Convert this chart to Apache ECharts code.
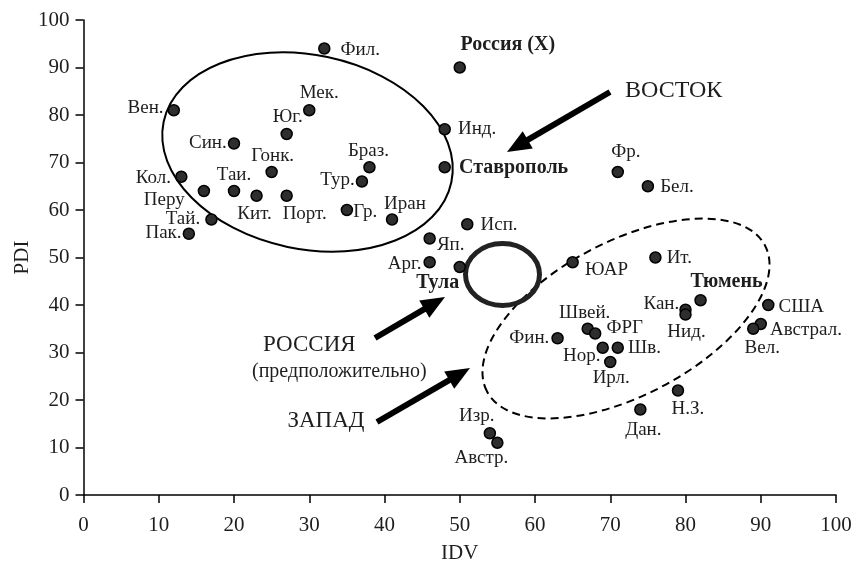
<!DOCTYPE html>
<html>
<head>
<meta charset="utf-8">
<script src="https://cdn.jsdelivr.net/npm/echarts@6/dist/echarts.min.js"></script>
<style>html,body{margin:0;padding:0;background:#fff;}#c{width:857px;height:561px;}</style>
</head>
<body>
<div id="c"></div>
<script>
// ---- data ----
const names = ['Фил.','Россия (X)','Вен.','Мек.','Юг.','Инд.','Син.','Ставрополь','Браз.','Гонк.','Фр.','Кол.','Тур.','Бел.','Перу','Таи.','Кит.','Порт.','Гр.','Иран','Тай.','Исп.','Пак.','Яп.','Арг.','Тула','ЮАР','Ит.','Тюмень','Кан.','Нид.','США','Австрал.','Вел.','Швей.','ФРГ','Фин.','Нор.','Шв.','Ирл.','Н.З.','Дан.','Изр.','Австр.'];
const idv = [32,50,12,30,27,48,20,48,38,25,71,13,37,75,16,20,23,27,35,41,17,51,14,46,46,50,65,76,82,80,80,91,90,89,67,68,63,69,71,70,79,74,54,55];
const pdi = [94,90,81,81,76,77,74,69,69,68,68,67,66,65,64,64,63,63,60,58,58,57,55,54,49,48,49,50,41,39,38,40,36,35,35,34,33,31,31,28,22,18,13,11];
const boldNames = ['Россия (X)','Ставрополь','Тула','Тюмень'];
const xAxisTitle = 'IDV';
const yAxisTitle = 'PDI';
const noteEast = 'ВОСТОК';
const noteRussia = ['РОССИЯ','(предположительно)'];
const noteWest = 'ЗАПАД';

// ---- label layout (style only) : [position, distance, dx, dy] ----
const labelPlace = {
  'Фил.':['right',10,0,2], 'Россия (X)':['top',6,48,0], 'Вен.':['left',4,0,-2], 'Мек.':['top',1,10,0],
  'Юг.':['top',1,1,0], 'Инд.':['right',7,0,0], 'Син.':['left',1,0,0], 'Ставрополь':['right',8,0,1],
  'Браз.':['top',0,-1,0], 'Гонк.':['top',0,1,0], 'Фр.':['top',4,8,0], 'Кол.':['left',4,0,1],
  'Тур.':['left',1,0,-1], 'Бел.':['right',6,0,1], 'Перу':['left',5,-8,9], 'Таи.':['top',0,0,0],
  'Кит.':['bottom',3,-2,0], 'Порт.':['bottom',3,18,0], 'Гр.':['right',0,0,2], 'Иран':['top',0,13,0],
  'Тай.':['left',5,0,0], 'Исп.':['right',7,0,1], 'Пак.':['left',1,0,-1], 'Яп.':['right',1,0,7],
  'Арг.':['left',2,0,2], 'Тула':['bottom',0,-22,0], 'ЮАР':['right',6,0,8], 'Ит.':['right',5,0,1],
  'Тюмень':['top',2,26,0], 'Кан.':['left',0,0,-6], 'Нид.':['bottom',2,1,0], 'США':['right',4,0,2],
  'Австрал.':['right',3,0,6], 'Вел.':['bottom',4,9,0], 'Швей.':['top',0,-3,0], 'ФРГ':['right',5,0,-5],
  'Фин.':['left',2,0,0], 'Нор.':['left',0,4,8], 'Шв.':['right',4,0,0], 'Ирл.':['bottom',0,1,0],
  'Н.З.':['bottom',3,10,0], 'Дан.':['bottom',5,3,0], 'Изр.':['top',1,-13,0], 'Австр.':['bottom',0,-16,0]
};

const FONT = 'Liberation Serif, Times New Roman, serif';
const TXT = '#1e1e1e';

const points = names.map((n, i) => {
  const L = labelPlace[n] || ['right',5,0,0];
  const bold = boldNames.indexOf(n) >= 0;
  return {
    name: n,
    value: [idv[i], pdi[i]],
    label: {
      show: true,
      formatter: n,
      position: L[0],
      distance: L[1],
      fontWeight: bold ? 'bold' : 'normal',
      fontSize: bold ? 20 : 19
    }
  };
});

function arrow(x1, y1, x2, y2) {
  const dx = x2 - x1, dy = y2 - y1, len = Math.sqrt(dx*dx + dy*dy);
  const ux = dx/len, uy = dy/len, px = -uy, py = ux;
  const hl = 24, hw = 10;
  const bx = x2 - ux*hl, by = y2 - uy*hl;
  return [
    { type: 'line', shape: { x1: x1, y1: y1, x2: bx + ux*2, y2: by + uy*2 }, style: { stroke: '#000', lineWidth: 6 }, silent: true },
    { type: 'polygon', shape: { points: [[x2, y2], [bx + px*hw, by + py*hw], [bx - px*hw, by - py*hw]] }, style: { fill: '#000' }, silent: true }
  ];
}

const chart = echarts.init(document.getElementById('c'), null, { renderer: 'canvas' });
const axisCommon = {
  type: 'value', min: 0, max: 100, interval: 10,
  splitLine: { show: false },
  axisLine: { show: true, lineStyle: { color: '#000', width: 1.5 } },
  axisTick: { show: true, inside: false, length: 8, lineStyle: { color: '#000', width: 1.5 } },
  axisLabel: { color: TXT, fontSize: 21, fontFamily: FONT, margin: 14 },
  nameLocation: 'middle',
  nameMoveOverlap: false,
  nameTextStyle: { color: TXT, fontSize: 21, fontFamily: FONT }
};

const graphics = []
  .concat([
    { type: 'ellipse', x: 307.5, y: 152, rotation: -0.207, shape: { cx: 0, cy: 0, rx: 147, ry: 97 }, style: { fill: null, stroke: '#000', lineWidth: 2 }, silent: true, z: 1 },
    { type: 'ellipse', x: 626, y: 318.5, rotation: 0.484, shape: { cx: 0, cy: 0, rx: 157, ry: 77 }, style: { fill: null, stroke: '#000', lineWidth: 2, lineDash: [8, 5] }, silent: true, z: 1 },
    { type: 'ellipse', x: 502.5, y: 274.5, shape: { cx: 0, cy: 0, rx: 37, ry: 31 }, style: { fill: null, stroke: '#222', lineWidth: 5 }, silent: true, z: 1 }
  ])
  .concat(arrow(610, 92, 507, 152))
  .concat(arrow(375, 338, 445, 297))
  .concat(arrow(377, 422, 470, 368))
  .concat([
    { type: 'text', x: 625, y: 91, style: { text: noteEast, fill: TXT, font: '24px ' + FONT, textAlign: 'left', textVerticalAlign: 'middle' } },
    { type: 'text', x: 263, y: 345, style: { text: noteRussia[0], fill: TXT, font: '23px ' + FONT, textAlign: 'left', textVerticalAlign: 'middle' } },
    { type: 'text', x: 252, y: 372, style: { text: noteRussia[1], fill: TXT, font: '20px ' + FONT, textAlign: 'left', textVerticalAlign: 'middle' } },
    { type: 'text', x: 326, y: 421, style: { text: noteWest, fill: TXT, font: '23px ' + FONT, textAlign: 'center', textVerticalAlign: 'middle' } }
  ]);

chart.setOption({
  animation: false,
  backgroundColor: '#fff',
  grid: { left: 83.5, right: 21, top: 20, bottom: 66, containLabel: false, outerBoundsMode: 'none' },
  xAxis: Object.assign({}, axisCommon, { name: xAxisTitle, nameGap: 48, axisLabel: Object.assign({}, axisCommon.axisLabel, { margin: 20 }) }),
  yAxis: Object.assign({}, axisCommon, { name: yAxisTitle, nameGap: 51, nameRotate: 90 }),
  graphic: graphics,
  series: [{
    type: 'scatter',
    symbol: 'circle',
    symbolSize: 11,
    z: 5,
    itemStyle: { color: '#2e2e2e', borderColor: '#000', borderWidth: 1.5, opacity: 1 },
    label: { color: TXT, fontSize: 19, fontFamily: FONT },
    labelLayout: function (p) {
      const L = labelPlace[names[p.dataIndex]] || ['right',5,0,0];
      return { dx: L[2], dy: L[3], hideOverlap: false };
    },
    data: points
  }]
});
</script>
</body>
</html>
